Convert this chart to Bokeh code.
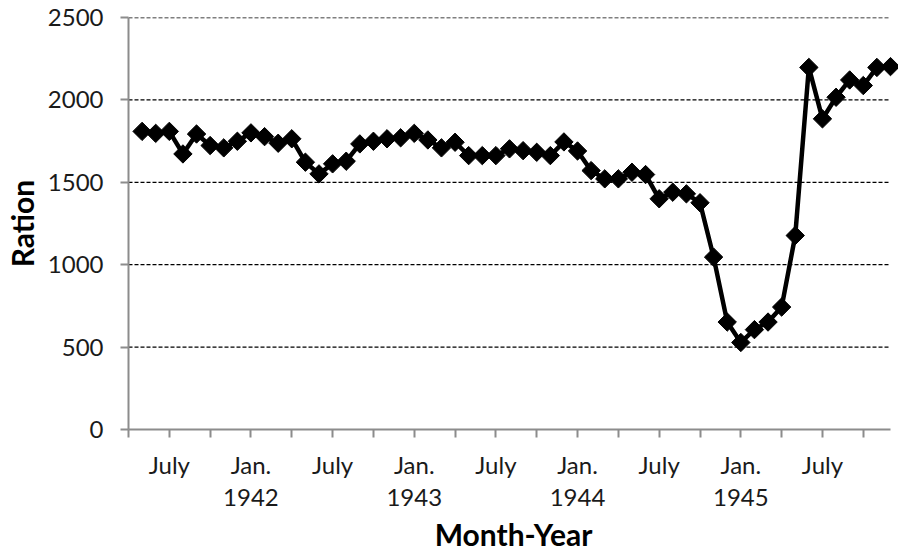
import numpy as np
import pandas as pd
from bokeh.plotting import figure
from bokeh.models import FixedTicker, Range1d
from bokeh.embed import file_html
from bokeh.resources import INLINE

# Months of the series (May 1941 .. Dec 1945)
months = [str(pp) for pp in pd.period_range("1941-05", "1945-12", freq="M")]
ration = [1809, 1797, 1809, 1672, 1793, 1723, 1709, 1749, 1800, 1777,
          1737, 1764, 1622, 1551, 1612, 1628, 1733, 1749, 1764, 1770,
          1797, 1757, 1709, 1743, 1662, 1662, 1662, 1703, 1692, 1682,
          1662, 1745, 1690, 1571, 1521, 1521, 1561, 1547, 1400, 1440,
          1430, 1376, 1046, 652, 528, 606, 652, 743, 1177, 2197,
          1885, 2016, 2121, 2087, 2197, 2202]

# x-axis ticks every 3 months
tick_months = ["1941-04", "1941-07", "1941-10", "1942-01", "1942-04", "1942-07",
               "1942-10", "1943-01", "1943-04", "1943-07", "1943-10", "1944-01",
               "1944-04", "1944-07", "1944-10", "1945-01", "1945-04", "1945-07",
               "1945-10"]
tick_labels = ["", "July", "", "Jan.\n1942", "", "July", "", "Jan.\n1943", "",
               "July", "", "Jan.\n1944", "", "July", "", "Jan.\n1945", "",
               "July", ""]
axis_start, axis_end = "1941-04", "1945-12"
y_ticks = [0, 500, 1000, 1500, 2000, 2500]


def month_index(s):
    y, m = s.split("-")
    return (int(y) - 1941) * 12 + int(m) - 1


x = [month_index(m) for m in months]
ticks = [month_index(m) for m in tick_months]
x0, x1 = month_index(axis_start), month_index(axis_end)

FONT = "Lato"
W, H = 898, 554
LEFT, RIGHT = 128, 8
px_per_month = (W - LEFT - RIGHT) / (x1 - x0)
x_end = x1 + RIGHT / px_per_month

p = figure(width=W, height=H,
           x_range=Range1d(x0, x_end),
           y_range=Range1d(0, 2500),
           output_backend="svg", toolbar_location=None,
           min_border_left=LEFT, min_border_right=0,
           min_border_top=17, min_border_bottom=125)
p.outline_line_color = None
p.background_fill_color = "white"

# dashed horizontal gridlines, spanning only the axis extent
grid_vals = y_ticks[1:]
p.segment(x0=[x0] * len(grid_vals), x1=[x1] * len(grid_vals),
          y0=grid_vals, y1=grid_vals,
          line_color="black", line_width=1.3, line_dash="4 2")

p.line(x, ration, line_color="black", line_width=4.5)
p.scatter(x, ration, marker="square", angle=np.pi / 4, size=13,
          fill_color="black", line_color="black")

p.xgrid.visible = False
p.ygrid.visible = False

AX_COL = "#8c8c8c"
for ax in (p.xaxis[0], p.yaxis[0]):
    ax.axis_line_color = AX_COL
    ax.axis_line_width = 2
    ax.major_tick_line_color = AX_COL
    ax.major_tick_line_width = 2
    ax.major_tick_out = 8
    ax.major_tick_in = 0
    ax.minor_tick_line_color = None
    ax.major_label_text_font = FONT
    ax.major_label_text_font_size = "24px"
    ax.major_label_text_color = "#1a1a1a"
    ax.axis_label_text_font = FONT
    ax.axis_label_text_font_style = "bold"
    ax.axis_label_text_font_size = "30px"
    ax.axis_label_text_color = "black"

xa = p.xaxis[0]
xa.bounds = (x0, x1)
xa.ticker = FixedTicker(ticks=ticks)
xa.major_label_overrides = {t: lab for t, lab in zip(ticks, tick_labels)}
xa.major_label_standoff = 12
xa.major_label_text_line_height = 1.11
xa.axis_label = "Month-Year"
xa.axis_label_standoff = 2

ya = p.yaxis[0]
ya.ticker = FixedTicker(ticks=y_ticks)
ya.major_label_standoff = 17
ya.axis_label = "Ration"
ya.axis_label_standoff = 5

open("out.html", "w").write(file_html(p, INLINE))
